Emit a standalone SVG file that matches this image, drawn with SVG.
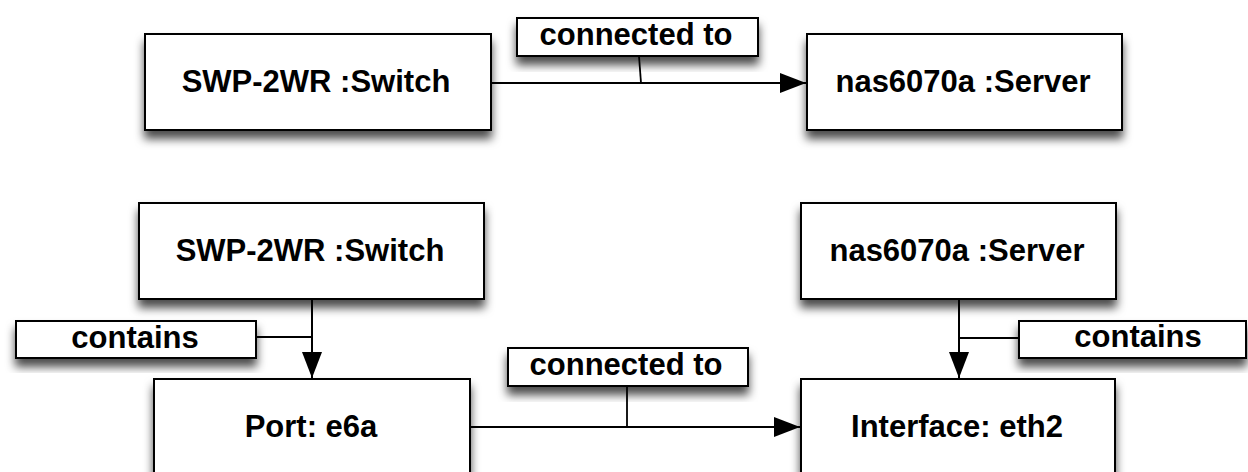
<svg xmlns="http://www.w3.org/2000/svg" width="1248" height="472" viewBox="0 0 1248 472">
  <style>
    .box { fill: #ffffff; stroke: #000000; stroke-width: 2; filter: url(#shadow); }
    .lbl { fill: #ffffff; stroke: #000000; stroke-width: 2; filter: url(#shadow); }
    .txt { font-family: "Liberation Sans", Arial, Helvetica, sans-serif; font-weight: bold; font-size: 31px; fill: #000000; text-anchor: middle; }
    .edge { fill: none; stroke: #000000; stroke-width: 2; }
    .tick { fill: none; stroke: #000000; stroke-width: 1.8; }
  </style>
  <defs>
    <filter id="shadow" x="-10%" y="-20%" width="120%" height="160%">
      <feDropShadow dx="0" dy="8" stdDeviation="5" flood-color="#000000" flood-opacity="0.7"/>
    </filter>
    <marker id="arrow" viewBox="0 0 26 20" refX="26" refY="10" markerWidth="26" markerHeight="20" markerUnits="userSpaceOnUse" orient="auto">
      <path d="M0,0 L26,10 L0,20 Z" fill="#000000"/>
    </marker>
  </defs>
  <rect width="1248" height="472" fill="#ffffff"/>

  <!-- connectors -->
  <g id="connectors">
    <path class="edge" d="M492,83 L806,83" marker-end="url(#arrow)"/>
    <path class="tick" d="M639,56 L641,83"/>
    <path class="edge" d="M312,299 L312,378" marker-end="url(#arrow)"/>
    <path class="tick" d="M256,337 L312,337"/>
    <path class="edge" d="M959,299 L959,378" marker-end="url(#arrow)"/>
    <path class="tick" d="M959,338 L1019,338"/>
    <path class="edge" d="M471,427 L800,427" marker-end="url(#arrow)"/>
    <path class="tick" d="M627,386 L627,427"/>
  </g>

  <!-- top row -->
  <g id="switch-top">
    <rect class="box" x="145" y="34" width="346" height="96"/>
    <text class="txt" x="316" y="92">SWP-2WR :Switch</text>
  </g>
  <g id="server-top">
    <rect class="box" x="807" y="34" width="315" height="96"/>
    <text class="txt" x="963" y="92">nas6070a :Server</text>
  </g>
  <g id="label-connected-top">
    <rect class="lbl" x="517" y="18" width="241" height="38"/>
    <text class="txt" x="636" y="45">connected to</text>
  </g>

  <!-- bottom row -->
  <g id="switch-bottom">
    <rect class="box" x="139" y="203" width="345" height="96"/>
    <text class="txt" x="310" y="261">SWP-2WR :Switch</text>
  </g>
  <g id="server-bottom">
    <rect class="box" x="801" y="203" width="315" height="96"/>
    <text class="txt" x="957" y="261">nas6070a :Server</text>
  </g>
  <g id="label-contains-left">
    <rect class="lbl" x="16" y="321" width="240" height="37"/>
    <text class="txt" x="135" y="348">contains</text>
  </g>
  <g id="label-contains-right">
    <rect class="lbl" x="1019" y="321" width="227" height="37"/>
    <text class="txt" x="1138" y="347">contains</text>
  </g>
  <g id="port">
    <rect class="box" x="154" y="379" width="316" height="110"/>
    <text class="txt" x="311" y="437">Port: e6a</text>
  </g>
  <g id="interface">
    <rect class="box" x="801" y="379" width="314" height="110"/>
    <text class="txt" x="957" y="437">Interface: eth2</text>
  </g>
  <g id="label-connected-bottom">
    <rect class="lbl" x="508" y="348" width="240" height="38"/>
    <text class="txt" x="626" y="375">connected to</text>
  </g>
</svg>
